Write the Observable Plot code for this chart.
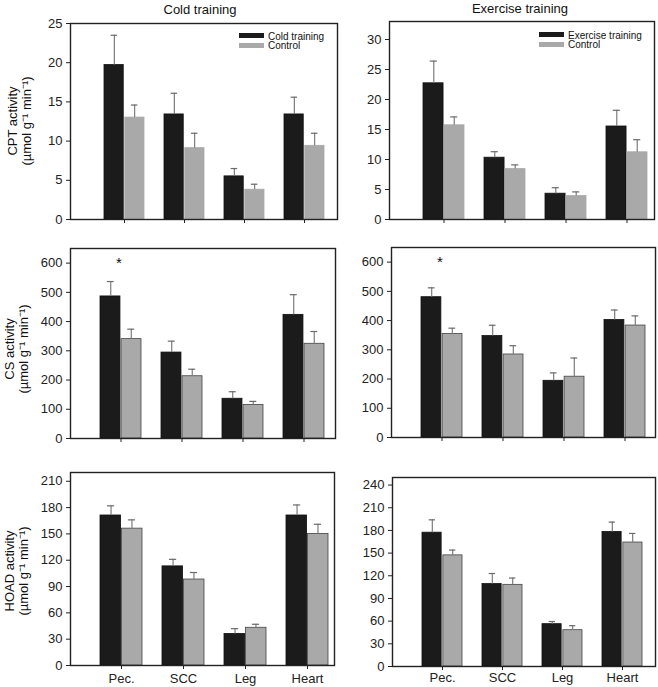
<!DOCTYPE html>
<html>
<head>
<meta charset="utf-8">
<script src="https://cdn.jsdelivr.net/npm/d3@7"></script>
<script src="https://cdn.jsdelivr.net/npm/@observablehq/plot@0.6"></script>
<style>
  body { margin: 0; background: #fff; font-family: "Liberation Sans", Arial, sans-serif; }
  #chart { position: relative; width: 658px; height: 687px; overflow: hidden; }
  #chart svg { position: absolute; overflow: visible; }
  .title { position: absolute; font-size: 13px; color: #111; white-space: nowrap; transform: translate(-50%, -50%); }
  .ylab { position: absolute; font-size: 13px; line-height: 14px; color: #111; text-align: center; white-space: nowrap; transform: translate(-50%, -50%) rotate(-90deg); }
  .sw { position: absolute; }
  .legtext { position: absolute; font-size: 10px; color: #111; white-space: nowrap; transform: translateY(-50%); }
</style>
</head>
<body>
<div id="chart"></div>
<script>
// ---------- data ----------
const organs = ["Pec.", "SCC", "Leg", "Heart"];
const columnTitles = ["Cold training", "Exercise training"];
const seriesCold = ["Cold training", "Control"];
const seriesExercise = ["Exercise training", "Control"];
const yTitles = ["CPT activity", "CS activity", "HOAD activity"];
const yUnit = "(µmol g⁻¹ min⁻¹)";

// CPT
const cptCold = [19.7, 13.4, 5.5, 13.4];
const cptColdSE = [3.8, 2.7, 1.0, 2.2];
const cptColdCtrl = [13.0, 9.1, 3.8, 9.4];
const cptColdCtrlSE = [1.6, 1.9, 0.7, 1.6];
const cptEx = [22.7, 10.3, 4.3, 15.5];
const cptExSE = [3.7, 1.0, 1.0, 2.7];
const cptExCtrl = [15.7, 8.4, 3.9, 11.2];
const cptExCtrlSE = [1.4, 0.7, 0.7, 2.1];
// CS
const csCold = [486, 294, 136, 423];
const csColdSE = [51, 39, 24, 69];
const csColdCtrl = [340, 213, 115, 324];
const csColdCtrlSE = [34, 24, 12, 42];
const csEx = [480, 347, 194, 402];
const csExSE = [32, 37, 27, 34];
const csExCtrl = [354, 284, 208, 383];
const csExCtrlSE = [20, 30, 64, 33];
// HOAD
const hoadCold = [171, 113, 36, 171];
const hoadColdSE = [11, 8, 6, 12];
const hoadColdCtrl = [156, 98, 43, 150];
const hoadColdCtrlSE = [10, 8, 4, 11];
const hoadEx = [177, 109, 56, 178];
const hoadExSE = [17, 14, 3.5, 13];
const hoadExCtrl = [147, 108, 48, 164];
const hoadExCtrlSE = [7, 9, 6, 12];

// y ticks
const cptColdTicks = [0, 5, 10, 15, 20, 25];
const cptExTicks = [0, 5, 10, 15, 20, 25, 30];
const csTicks = [0, 100, 200, 300, 400, 500, 600];
const hoadColdTicks = [0, 30, 60, 90, 120, 150, 180, 210];
const hoadExTicks = [0, 30, 60, 90, 120, 150, 180, 210, 240];

// significance markers
const csSig = ["Pec."];
const sigLevel = 600;

// ---------- drawing ----------
const chart = document.getElementById("chart");
const FONT = "Liberation Sans, Arial, sans-serif";

function rowsOf(t, tSE, c, cSE) {
  return organs.map((organ, i) => ({organ, t: t[i], tSE: tSE[i], c: c[i], cSE: cSE[i]}));
}

function panel(o) {
  const [x1, y1, x2, y2] = o.frame;
  const [sx, sy, sw, sh] = o.box;
  const rows = rowsOf(o.t, o.tSE, o.c, o.cSE);
  const pInner = 0.33;
  const bw = d3.scaleBand().domain(organs).range([x1 + o.insetL, x2 - o.insetR])
    .paddingInner(pInner).paddingOuter(0).bandwidth();
  const q = bw / 4;
  const marks = [
    Plot.barY(rows, {x: "organ", y: "t", fill: "#1b1b1b", stroke: "#111", strokeWidth: 0.8, insetRight: bw / 2 + 0.5}),
    Plot.barY(rows, {x: "organ", y: "c", fill: "#a9a9a9", stroke: o.grayStroke, strokeWidth: 0.8, insetLeft: bw / 2 + 0.5}),
    Plot.ruleX(rows, {x: "organ", y1: "t", y2: d => d.t + d.tSE, dx: -q, stroke: "#7d7d7d", strokeWidth: 1.2}),
    Plot.tickY(rows, {x: "organ", y: d => d.t + d.tSE, insetLeft: q - 3.5, insetRight: 3 * q - 3.5, stroke: "#6a6a6a", strokeWidth: 1.2}),
    Plot.ruleX(rows, {x: "organ", y1: "c", y2: d => d.c + d.cSE, dx: q, stroke: "#7d7d7d", strokeWidth: 1.2}),
    Plot.tickY(rows, {x: "organ", y: d => d.c + d.cSE, insetLeft: 3 * q - 3.5, insetRight: q - 3.5, stroke: "#6a6a6a", strokeWidth: 1.2}),
    Plot.axisY({ticks: o.ticks, tickSize: 4, tickPadding: 4, label: null, fontSize: 13, stroke: "#222"}),
    Plot.axisX({tickSize: 4, tickPadding: o.xPad ?? 5, label: null, fontSize: 13, stroke: "#222",
      tickFormat: o.showLabels ? (d => d) : (() => "")}),
    Plot.frame({stroke: "#222", strokeWidth: 1.4})
  ];
  if (o.sig) {
    marks.push(Plot.text(o.sig, {x: d => d, y: () => sigLevel, text: () => "*", dx: -2, fontSize: 15, fill: "#111", lineAnchor: "middle"}));
  }
  const svg = Plot.plot({
    width: sw, height: sh,
    marginLeft: x1 - sx, marginRight: sx + sw - x2,
    marginTop: y1 - sy, marginBottom: sy + sh - y2,
    style: {fontFamily: FONT, fontSize: "13px", color: "#222", background: "transparent", overflow: "visible"},
    x: {type: "band", domain: organs, paddingInner: pInner, paddingOuter: 0, insetLeft: o.insetL, insetRight: o.insetR},
    y: {domain: o.yDomain},
    marks
  });
  svg.style.left = sx + "px";
  svg.style.top = sy + "px";
  chart.appendChild(svg);
}

function addDiv(cls, html, css) {
  const d = document.createElement("div");
  d.className = cls;
  d.innerHTML = html;
  Object.assign(d.style, css);
  chart.appendChild(d);
  return d;
}

const L = [0, 345], R = [345, 313];
const row1 = [14, 226], row2 = [240, 215], row3 = [455, 232];

panel({frame: [70, 23, 337, 219], box: [L[0], row1[0], L[1], row1[1]], t: cptCold, tSE: cptColdSE, c: cptColdCtrl, cSE: cptColdCtrlSE,
  yDomain: [0, 25], ticks: cptColdTicks, insetL: 33, insetR: 12, showLabels: false, grayStroke: "#a9a9a9"});
panel({frame: [389, 21, 654, 219], box: [R[0], row1[0], R[1], row1[1]], t: cptEx, tSE: cptExSE, c: cptExCtrl, cSE: cptExCtrlSE,
  yDomain: [0, 33], ticks: cptExTicks, insetL: 34, insetR: 7, showLabels: false, grayStroke: "#a9a9a9"});
panel({frame: [70, 248, 335, 438], box: [L[0], row2[0], L[1], row2[1]], t: csCold, tSE: csColdSE, c: csColdCtrl, cSE: csColdCtrlSE,
  yDomain: [0, 650], ticks: csTicks, insetL: 29, insetR: 11, showLabels: false, grayStroke: "#444", sig: csSig});
panel({frame: [391, 247, 655, 437], box: [R[0], row2[0], R[1], row2[1]], t: csEx, tSE: csExSE, c: csExCtrl, cSE: csExCtrlSE,
  yDomain: [0, 650], ticks: csTicks, insetL: 29, insetR: 9, showLabels: false, grayStroke: "#444", sig: csSig});
panel({frame: [70, 472, 334, 665], box: [L[0], row3[0], L[1], row3[1]], t: hoadCold, tSE: hoadColdSE, c: hoadColdCtrl, cSE: hoadColdCtrlSE,
  yDomain: [0, 220], ticks: hoadColdTicks, insetL: 29, insetR: 6, showLabels: true, grayStroke: "#444", xPad: 4});
panel({frame: [392, 477, 655, 666], box: [R[0], row3[0], R[1], row3[1]], t: hoadEx, tSE: hoadExSE, c: hoadExCtrl, cSE: hoadExCtrlSE,
  yDomain: [0, 250], ticks: hoadExTicks, insetL: 29, insetR: 11, showLabels: true, grayStroke: "#444", xPad: 2});

// column titles
addDiv("title", columnTitles[0], {left: "200px", top: "9px"});
addDiv("title", columnTitles[1], {left: "520px", top: "8px"});

// y-axis titles
addDiv("ylab", yTitles[0] + "<br>" + yUnit, {left: "20px", top: "121px"});
addDiv("ylab", yTitles[1] + "<br>" + yUnit, {left: "16.5px", top: "349px"});
addDiv("ylab", yTitles[2] + "<br>" + yUnit, {left: "16.5px", top: "571px"});

// legends
function legend(names, x, yTop) {
  addDiv("sw", "", {left: x + "px", top: yTop + "px", width: "25px", height: "5px", background: "#1b1b1b"});
  addDiv("sw", "", {left: x + "px", top: (yTop + 9.5) + "px", width: "25px", height: "5px", background: "#a9a9a9"});
  addDiv("legtext", names[0], {left: (x + 29) + "px", top: (yTop + 2.5) + "px"});
  addDiv("legtext", names[1], {left: (x + 29) + "px", top: (yTop + 12) + "px"});
}
legend(seriesCold, 239, 33);
legend(seriesExercise, 539, 32);
</script>
</body>
</html>
